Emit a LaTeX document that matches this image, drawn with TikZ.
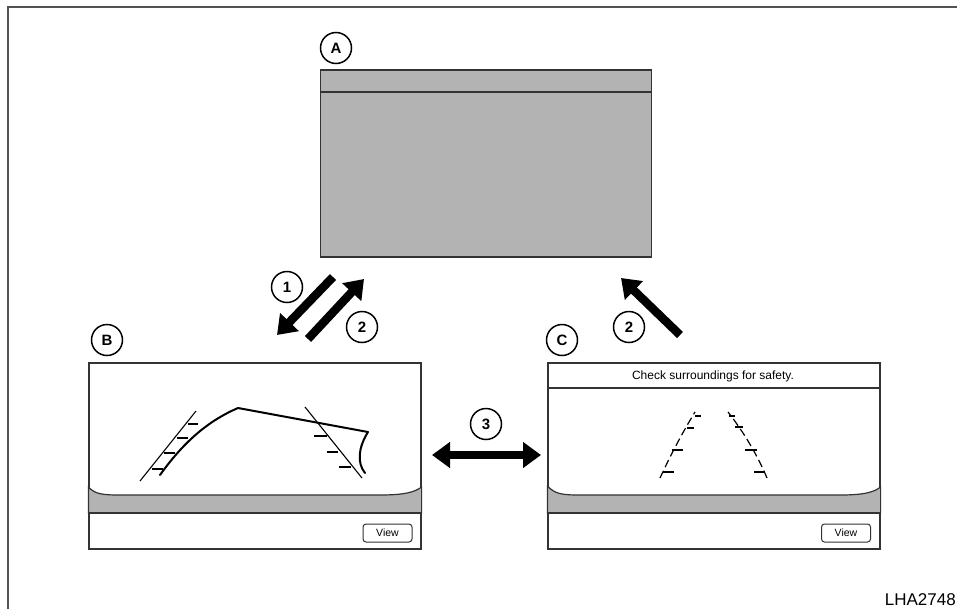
\documentclass[tikz,border=0pt]{standalone}
\usepackage{fontspec}
\setmainfont{Liberation Sans}
\usetikzlibrary{arrows.meta}
\definecolor{scrgray}{HTML}{B3B3B3}
\definecolor{edge}{HTML}{333333}
\tikzset{
  screen/.style={draw=edge, line width=1.2pt, minimum width=332pt, minimum height=186pt, inner sep=0pt, fill=white},
  tag/.style={circle, draw=black, line width=1.5pt, minimum size=31pt, inner sep=0pt, font=\fontsize{15}{15}\selectfont\bfseries},
  bigarrow/.style={line width=8.5pt, -{Triangle[length=18pt,width=25pt]}},
  dblarrow/.style={line width=8.5pt, {Triangle[length=18pt,width=25pt]}-{Triangle[length=18pt,width=25pt]}},
  viewbtn/.style={draw=edge, line width=1pt, rounded corners=3pt, minimum width=49pt, minimum height=18pt, inner sep=0pt, font=\fontsize{10.5}{10.5}\selectfont},
  guide/.style={line width=2pt, line join=round, line cap=round},
  hatch/.style={line width=1.1pt},
  dguide/.style={line width=1.2pt, dash pattern=on 8pt off 4pt},
  band/.style={fill=scrgray, draw=edge, line width=1.2pt}
}
\begin{document}
\begin{tikzpicture}[x=1pt,y=-1pt]
\clip (0,0) rectangle (957,608);
\useasboundingbox (0,0) rectangle (957,608);
% outer frame (only top and left visible)
\draw[draw=edge!85, line width=2pt] (7.5,609) |- (958,6.5);

% Screen A
\node[screen, fill=scrgray, minimum width=331pt, minimum height=187pt] (scrA) at (486,163.5) {};
\draw[edge, line width=1.2pt] (scrA.west |- 0,92) -- (scrA.east |- 0,92);
\node[tag] (tA) at (336,48) {A};

% Screen B
\node[screen] (scrB) at (255,456) {};
\draw[band] (scrB.west |- 0,487) .. controls (95,494) and (102,495) .. (120,495) -- (380,495) .. controls (405,495) and (415,492) .. (scrB.east |- 0,487) -- (scrB.east |- 0,513) -- (scrB.west |- 0,513) -- cycle;
\draw[edge, line width=1.2pt] (scrB.west |- 0,513) -- (scrB.east |- 0,513);
\node[viewbtn] (vB) at (387.5,533) {View};
\node[tag] (tB) at (107,340) {B};
% guide lines in B
\draw[hatch] (140,481) -- (196,411);
\draw[hatch] (188,424) -- (198,424) (177,438) -- (188,438) (164,453) -- (175,453) (152,469) -- (163,469);
\draw[hatch] (305,407) -- (362,478);
\draw[hatch] (314,436) -- (327,436) (327,452) -- (338,452) (339,467) -- (351,467);
\draw[guide] (160,475) .. controls (185,440) and (210,420) .. (238,408) -- (368,432) .. controls (358,448) and (357,463) .. (365,473);

% Screen C
\node[screen] (scrC) at (714,456) {};
\draw[edge, line width=1.2pt] (scrC.west |- 0,388) -- (scrC.east |- 0,388);
\node[font=\fontsize{12}{12}\selectfont] (msg) at (713,376) {Check surroundings for safety.};
\draw[band] (scrC.west |- 0,486) .. controls (555,494) and (562,495) .. (580,495) -- (840,495) .. controls (865,495) and (874,492) .. (scrC.east |- 0,487) -- (scrC.east |- 0,513) -- (scrC.west |- 0,513) -- cycle;
\draw[edge, line width=1.2pt] (scrC.west |- 0,513) -- (scrC.east |- 0,513);
\node[viewbtn] (vC) at (846,533) {View};
\node[tag] (tC) at (562,340) {C};
% dashed guides in C
\draw[dguide] (660,478) .. controls (672,452) and (684,430) .. (695,412);
\draw[hatch] (695,416) -- (701,416) (687,428) -- (694,428) (672,450) -- (683,450) (663,472) -- (674,472);
\draw[dguide] (767,478) .. controls (756,452) and (742,430) .. (728,412);
\draw[hatch] (729,416) -- (735,416) (735,427) -- (743,427) (745,450) -- (757,450) (754,472) -- (765,472);

% arrows
\coordinate (a1s) at (333,277);
\coordinate (a1e) at (277,335);
\coordinate (a2s) at (308,339);
\coordinate (a2e) at (364,279);
\coordinate (a3s) at (680,335);
\coordinate (a3e) at (621,278);
\coordinate (a4s) at (432,455);
\coordinate (a4e) at (541,455);
\draw[bigarrow] (a1s) -- (a1e);
\draw[bigarrow] (a2s) -- (a2e);
\draw[bigarrow] (a3s) -- (a3e);
\draw[dblarrow] (a4s) -- (a4e);
\node[tag] (t1) at (287,287) {1};
\node[tag] (t2) at (362,327) {2};
\node[tag] (t2b) at (629,327) {2};
\node[tag] (t3) at (486,424) {3};

\node[anchor=base east, font=\fontsize{17}{17}\selectfont, inner sep=0pt] (code) at (956,605) {LHA2748};
\end{tikzpicture}
\end{document}
